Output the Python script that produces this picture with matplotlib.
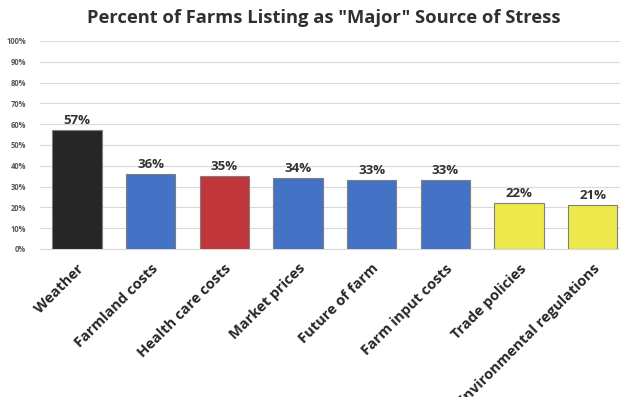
import numpy as np
import matplotlib
matplotlib.use('Agg')
import matplotlib.pyplot as plt
from matplotlib.ticker import PercentFormatter

plt.rcParams['font.family'] = ['Open Sans', 'DejaVu Sans']

categories = ['Weather', 'Farmland costs', 'Health care costs', 'Market prices',
              'Future of farm', 'Farm input costs', 'Trade policies',
              'Environmental regulations']
values = [57, 36, 35, 34, 33, 33, 22, 21]
colors = ['#262626', '#4472C4', '#C0363A', '#4472C4',
          '#4472C4', '#4472C4', '#EEE84A', '#EEE84A']

fig = plt.figure(figsize=(6.2, 3.97), dpi=100)
ax = fig.add_axes([40/620, 1 - 249/397, 580/620, 208/397])

x = np.arange(len(categories))
bars = ax.bar(x, values, width=0.67, color=colors, edgecolor='#7F7F7F', linewidth=0.8, zorder=3)

for xi, v in zip(x, values):
    ax.text(xi, v + 1.5, f'{v}%', ha='center', va='bottom', fontsize=9.5,
            fontweight='bold', color='#333333')

ax.set_ylim(0, 100)
ax.set_xlim(-0.5, 7.37)
ax.set_yticks(np.arange(0, 101, 10))
ax.yaxis.set_major_formatter(PercentFormatter(decimals=0))
ax.tick_params(axis='y', length=0, labelsize=5.5, labelcolor='#595959', pad=10)
for lab in ax.get_yticklabels():
    lab.set_fontweight('bold')
ax.grid(axis='y', color='#D9D9D9', linewidth=0.8, zorder=0)
for s in ['top', 'right', 'left']:
    ax.spines[s].set_visible(False)
ax.spines['bottom'].set_color('#D9D9D9')

ax.set_xticks(x)
ax.set_xticklabels(categories, rotation=45, ha='right', va='top',
                   rotation_mode='anchor', fontsize=10.5, fontweight='bold',
                   color='#262626')
ax.tick_params(axis='x', length=0, pad=9)

fig.text(0.523, 1 - 18/397, 'Percent of Farms Listing as "Major" Source of Stress',
         ha='center', va='center', fontsize=13.2, fontweight='bold', color='#303030')

fig.savefig('out.png', dpi=100)
